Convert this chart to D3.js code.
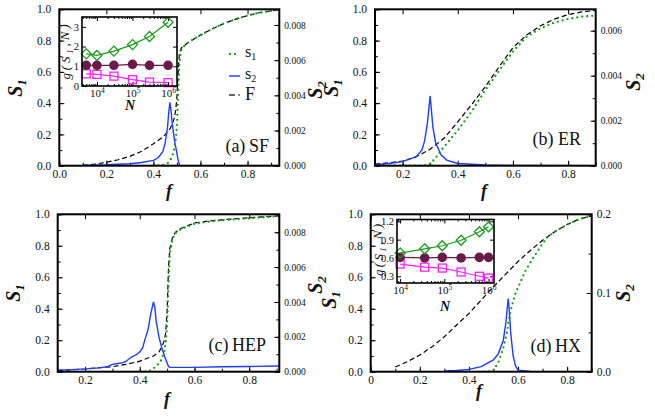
<!DOCTYPE html>
<html>
<head>
<meta charset="utf-8">
<script src="https://cdn.jsdelivr.net/npm/d3@7"></script>
</head>
<body style="margin:0;background:#fff">
<svg width="655" height="417" style="display:block"></svg>
<script>
// ---- panel (a) SF: [f, value] ----
var sfF = [[0.1,0.003],[0.15,0.01],[0.2,0.022],[0.25,0.038],[0.3,0.06],[0.35,0.092],[0.4,0.14],[0.43,0.172],[0.45,0.198],[0.47,0.235],[0.48,0.265],[0.49,0.31],[0.495,0.36],[0.5,0.44],[0.505,0.6],[0.51,0.71],[0.515,0.74],[0.52,0.755],[0.55,0.79],[0.6,0.835],[0.65,0.875],[0.7,0.91],[0.75,0.937],[0.8,0.96],[0.85,0.978],[0.9,0.99],[0.935,0.997]];
var sfS1 = [[0.4,0],[0.43,0.002],[0.45,0.006],[0.46,0.015],[0.47,0.033],[0.48,0.06],[0.49,0.115],[0.495,0.17],[0.5,0.26],[0.505,0.45],[0.51,0.64],[0.515,0.72],[0.52,0.75],[0.55,0.79],[0.6,0.835],[0.65,0.875],[0.7,0.91],[0.75,0.937],[0.8,0.96],[0.85,0.978],[0.9,0.99],[0.935,0.997]];
var sfS2 = [[0.1,0.00002],[0.2,0.00005],[0.3,0.00011],[0.35,0.00018],[0.4,0.0003],[0.42,0.00045],[0.44,0.0008],[0.45,0.0013],[0.46,0.0022],[0.465,0.003],[0.47,0.0036],[0.475,0.0031],[0.48,0.0024],[0.49,0.0014],[0.5,0.0007],[0.505,0.0003],[0.512,0],[0.935,0]];

// ---- panel (b) ER ----
var erF = [[0.1,0.01],[0.15,0.018],[0.2,0.03],[0.25,0.058],[0.3,0.105],[0.35,0.175],[0.4,0.28],[0.45,0.39],[0.5,0.505],[0.55,0.633],[0.6,0.755],[0.65,0.836],[0.7,0.895],[0.75,0.937],[0.8,0.966],[0.85,0.983],[0.9,0.993]];
var erS1 = [[0.1,0],[0.27,0],[0.29,0.005],[0.3,0.012],[0.32,0.05],[0.35,0.12],[0.4,0.225],[0.45,0.345],[0.5,0.484],[0.55,0.608],[0.6,0.73],[0.65,0.825],[0.7,0.878],[0.75,0.915],[0.8,0.938],[0.85,0.953],[0.9,0.96]];
var erS2 = [[0.1,0.00004],[0.15,0.0001],[0.2,0.00018],[0.25,0.0004],[0.27,0.0007],[0.28,0.0011],[0.29,0.0019],[0.295,0.0025],[0.3,0.0031],[0.305,0.0024],[0.31,0.0017],[0.32,0.001],[0.34,0.00047],[0.36,0.00025],[0.4,0.0001],[0.5,0.00003],[0.6,0.00001],[0.9,0]];

// ---- panel (c) HEP ----
var hepF = [[0.1,0.006],[0.2,0.017],[0.3,0.032],[0.35,0.046],[0.4,0.067],[0.45,0.1],[0.47,0.125],[0.48,0.155],[0.49,0.2],[0.495,0.25],[0.5,0.39],[0.505,0.66],[0.51,0.785],[0.52,0.855],[0.53,0.885],[0.55,0.91],[0.6,0.945],[0.65,0.957],[0.7,0.965],[0.8,0.978],[0.91,0.99]];
var hepS1 = [[0.42,0],[0.44,0.008],[0.45,0.02],[0.47,0.052],[0.48,0.078],[0.49,0.13],[0.495,0.19],[0.5,0.29],[0.505,0.56],[0.51,0.75],[0.52,0.845],[0.53,0.88],[0.55,0.905],[0.6,0.94],[0.65,0.953],[0.7,0.962],[0.8,0.975],[0.91,0.988]];
var hepS2 = [[0.1,0.0001],[0.15,0.00012],[0.2,0.00016],[0.25,0.00022],[0.28,0.00028],[0.3,0.00042],[0.32,0.00047],[0.34,0.00052],[0.35,0.0006],[0.37,0.00084],[0.39,0.001],[0.4,0.00115],[0.41,0.00135],[0.42,0.0019],[0.43,0.0024],[0.44,0.0033],[0.45,0.004],[0.455,0.0037],[0.46,0.0029],[0.47,0.002],[0.48,0.0014],[0.49,0.0009],[0.5,0.0005],[0.505,0.0003],[0.51,0.00025],[0.6,0.00025],[0.7,0.00028],[0.8,0.0003],[0.91,0.00033]];

// ---- panel (d) HX ----
var hxF = [[0.1,0.03],[0.15,0.064],[0.2,0.106],[0.25,0.159],[0.3,0.222],[0.35,0.297],[0.4,0.37],[0.45,0.455],[0.5,0.54],[0.55,0.62],[0.6,0.7],[0.65,0.77],[0.7,0.835],[0.75,0.89],[0.8,0.935],[0.85,0.97],[0.9,0.99]];
var hxS1 = [[0.46,0],[0.48,0.002],[0.5,0.01],[0.52,0.06],[0.54,0.15],[0.555,0.25],[0.565,0.35],[0.575,0.42],[0.59,0.5],[0.61,0.57],[0.63,0.64],[0.66,0.72],[0.69,0.79],[0.72,0.855],[0.75,0.89],[0.8,0.935],[0.85,0.97],[0.9,0.99]];
var hxS2 = [[0.3,0.0008],[0.35,0.0015],[0.4,0.003],[0.45,0.0065],[0.5,0.015],[0.52,0.023],[0.54,0.04],[0.55,0.061],[0.56,0.093],[0.565,0.075],[0.57,0.05],[0.58,0.02],[0.59,0.007],[0.6,0.002],[0.65,0.0004],[0.7,0]];

// ---- insets: g(S1,N) against N ----
var sfN = [5000, 1e4, 3e4, 1e5, 3e5, 1e6];
var sfDiamond = [1.63, 1.55, 1.77, 2.1, 2.51, 3.23];
var sfCircle = [1.05, 1.05, 1.05, 1.1, 1.05, 1.05];
var sfSquare = [0.62, 0.59, 0.5, 0.32, 0.2, 0.17];
var hxN = [1e4, 3.6e4, 9e4, 2.4e5, 6.2e5, 1e6];
var hxDiamond = [0.68, 0.75, 0.8, 0.89, 1.03, 1.11];
var hxCircle = [0.61, 0.6, 0.61, 0.6, 0.61, 0.61];
var hxSquare = [0.5, 0.45, 0.435, 0.37, 0.3, 0.27];

// ---- tick values ----
var s1Ticks = [0, 0.2, 0.4, 0.6, 0.8, 1.0];
var fTicksA = [0, 0.2, 0.4, 0.6, 0.8];
var fTicksB = [0.2, 0.4, 0.6, 0.8];
var s2TicksA = [0, 0.002, 0.004, 0.006, 0.008];
var s2TicksB = [0, 0.002, 0.004, 0.006];
var s2TicksD = [0, 0.1, 0.2];
var gTicksA = [0, 1, 2, 3];
var gTicksD = [0.3, 0.6, 0.9, 1.2];
var nTicks = [1e4, 1e5, 1e6];

var GREEN = "#1a9a1a", BLUE = "#1f3cff", MAROON = "#6a1a48", MAGENTA = "#ff20ff";

var svg = d3.select("svg");

function addAxis(g, gen, tx, ty, vals, size, pad, fmt, fs) {
	var a = g.append("g")
		.attr("transform", "translate(" + tx + "," + ty + ")")
		.call(gen.tickValues(vals).tickSize(size).tickPadding(pad).tickFormat(fmt));
	a.select(".domain").remove();
	a.attr("font-size", fs);
	a.selectAll("line").attr("stroke", "#000");
	return a;
}

function minorVals(dom, step) {
	var out = [];
	for (var v = Math.ceil(dom[0] / step - 1e-6) * step; v <= dom[1] + 1e-9; v += step) out.push(+v.toFixed(6));
	return out;
}

function drawPanel(p) {
	var x = d3.scaleLinear().domain(p.fdom).range([p.x0, p.x1]);
	var y = d3.scaleLinear().domain([0, 1]).range([p.y1, p.y0]);
	var y2 = d3.scaleLinear().domain(p.s2dom).range([p.y1, p.y0]);
	var g = svg.append("g");

	g.append("clipPath").attr("id", "clip-" + p.id)
		.append("rect").attr("x", p.x0).attr("y", p.y0)
		.attr("width", p.x1 - p.x0).attr("height", p.y1 - p.y0);

	// ticks point into the plot
	var none = function() { return ""; };
	addAxis(g, d3.axisBottom(x), 0, p.y1, p.fTicks, -5, 4, p.fFmt, "11.5px");
	addAxis(g, d3.axisBottom(x), 0, p.y1, minorVals(p.fdom, 0.1), -3, 0, none, "1px");
	addAxis(g, d3.axisTop(x), 0, p.y0, p.fTicks, -5, 0, none, "1px");
	addAxis(g, d3.axisLeft(y), p.x0, 0, s1Ticks, -5, 8, d3.format(".1f"), "11.5px");
	addAxis(g, d3.axisLeft(y), p.x0, 0, minorVals([0, 1], 0.1), -3, 0, none, "1px");
	addAxis(g, d3.axisRight(y2), p.x1, 0, p.s2Ticks, -5, 5, p.s2Fmt, p.s2fs);
	addAxis(g, d3.axisRight(y2), p.x1, 0, minorVals(p.s2dom, p.s2Minor), -3, 0, none, "1px");

	var cg = g.append("g").attr("clip-path", "url(#clip-" + p.id + ")");
	var lineL = d3.line().x(function(d) { return x(d[0]); }).y(function(d) { return y(d[1]); });
	var lineR = d3.line().x(function(d) { return x(d[0]); }).y(function(d) { return y2(d[1]); });

	cg.append("path").datum(p.F).attr("d", lineL)
		.attr("fill", "none").attr("stroke", "#000").attr("stroke-width", 1.2)
		.attr("stroke-dasharray", "5,3");
	cg.append("path").datum(p.S2).attr("d", lineR)
		.attr("fill", "none").attr("stroke", BLUE).attr("stroke-width", 1.4);
	cg.append("path").datum(p.S1).attr("d", lineL)
		.attr("fill", "none").attr("stroke", GREEN).attr("stroke-width", 2.3)
		.attr("stroke-linecap", "round").attr("stroke-dasharray", "0,5");

	g.append("rect").attr("x", p.x0).attr("y", p.y0)
		.attr("width", p.x1 - p.x0).attr("height", p.y1 - p.y0)
		.attr("fill", "none").attr("stroke", "#000").attr("stroke-width", 2);

	// axis titles
	g.append("text").attr("x", p.fLab[0]).attr("y", p.fLab[1])
		.attr("text-anchor", "middle").attr("font-size", "18px")
		.attr("font-style", "italic").attr("font-weight", "bold").text("f");
	[[p.s1Lab, "1"], [p.s2Lab, "2"]].forEach(function(l) {
		var t = g.append("text")
			.attr("transform", "translate(" + l[0][0] + "," + l[0][1] + ") rotate(-90)")
			.attr("text-anchor", "middle").attr("font-size", "20px")
			.attr("font-style", "italic").attr("font-weight", "bold");
		t.append("tspan").text("S");
		t.append("tspan").attr("dy", "0.3em").attr("font-size", "13px").text(l[1]);
	});

	g.append("text").attr("x", p.tag[0]).attr("y", p.tag[1])
		.attr("text-anchor", "end").attr("font-size", "18px").text(p.tagText);
	return g;
}

function supLabels(a) {
	a.selectAll(".tick text").each(function(d) {
		var t = d3.select(this);
		t.text(null);
		t.append("tspan").text("10");
		t.append("tspan").attr("dy", "-0.5em").attr("font-size", "7.5px").text(Math.round(Math.log10(d)));
	});
}

function drawInset(q) {
	var x = d3.scaleLog().domain(q.ndom).range([q.x0, q.x1]);
	var y = d3.scaleLinear().domain(q.gdom).range([q.y1, q.y0]);
	var g = svg.append("g");
	g.append("rect").attr("x", q.x0).attr("y", q.y0)
		.attr("width", q.x1 - q.x0).attr("height", q.y1 - q.y0).attr("fill", "#fff");

	var none = function() { return ""; };
	var minorN = [];
	[1e3, 1e4, 1e5, 1e6].forEach(function(dec) {
		for (var k = 2; k <= 9; k++) {
			var v = dec * k;
			if (v >= q.ndom[0] && v <= q.ndom[1]) minorN.push(v);
		}
	});
	var bx = addAxis(g, d3.axisBottom(x), 0, q.y1, nTicks, -4, 3, none, "11px");
	supLabels(bx);
	addAxis(g, d3.axisBottom(x), 0, q.y1, minorN, -2, 0, none, "1px");
	addAxis(g, d3.axisTop(x), 0, q.y0, nTicks, -4, 0, none, "1px");
	addAxis(g, d3.axisTop(x), 0, q.y0, minorN, -2, 0, none, "1px");
	addAxis(g, d3.axisLeft(y), q.x0, 0, q.gTicks, -4, 3, q.gFmt, "10.5px");
	addAxis(g, d3.axisRight(y), q.x1, 0, q.gTicks, -4, 0, none, "1px");

	var series = [
		{ v: q.sq, c: MAGENTA, shape: "sq" },
		{ v: q.ci, c: MAROON, shape: "ci" },
		{ v: q.di, c: GREEN, shape: "di" }
	];
	series.forEach(function(s) {
		var pts = q.N.map(function(n, i) { return [n, s.v[i]]; });
		g.append("path").datum(pts)
			.attr("d", d3.line().x(function(d) { return x(d[0]); }).y(function(d) { return y(d[1]); }))
			.attr("fill", "none").attr("stroke", s.c).attr("stroke-width", 1.2);
		var m = g.selectAll(null).data(pts).enter();
		if (s.shape === "ci") {
			m.append("circle").attr("cx", function(d) { return x(d[0]); }).attr("cy", function(d) { return y(d[1]); })
				.attr("r", 4.8).attr("fill", s.c);
		} else if (s.shape === "sq") {
			m.append("rect").attr("x", function(d) { return x(d[0]) - 4; }).attr("y", function(d) { return y(d[1]) - 4; })
				.attr("width", 8).attr("height", 8).attr("fill", "none").attr("stroke", s.c).attr("stroke-width", 1.3);
		} else {
			m.append("path").attr("transform", function(d) { return "translate(" + x(d[0]) + "," + y(d[1]) + ")"; })
				.attr("d", "M0,-5L5,0L0,5L-5,0Z").attr("fill", "none").attr("stroke", s.c).attr("stroke-width", 1.3);
		}
	});

	g.append("rect").attr("x", q.x0).attr("y", q.y0)
		.attr("width", q.x1 - q.x0).attr("height", q.y1 - q.y0)
		.attr("fill", "none").attr("stroke", "#000").attr("stroke-width", 1.6);

	var gl = g.append("text")
		.attr("transform", "translate(" + q.gLab[0] + "," + q.gLab[1] + ") rotate(-90)")
		.attr("text-anchor", "middle").attr("font-size", "13px").attr("font-style", "italic")
		.attr("textLength", q.gLen).attr("lengthAdjust", "spacing");
	gl.append("tspan").text("g(S");
	gl.append("tspan").attr("dy", "0.3em").attr("font-size", "9px").text("1");
	gl.append("tspan").attr("dy", "-0.3em").text(",N)");
	g.append("text").attr("x", q.nLab[0]).attr("y", q.nLab[1])
		.attr("text-anchor", "middle").attr("font-size", "14px")
		.attr("font-style", "italic").attr("font-weight", "bold").text("N");
}

var fmt1 = d3.format(".1f");
var fmtD = function(d) { return d === 0 ? "0" : fmt1(d); };

drawPanel({ id: "a", x0: 59.3, x1: 279.3, y0: 9.3, y1: 165.7, fdom: [0, 0.935], s2dom: [0, 0.00889],
	fTicks: fTicksA, fFmt: fmt1, s2Ticks: s2TicksA, s2Fmt: d3.format(".3f"), s2fs: "9.5px", s2Minor: 0.001,
	F: sfF, S1: sfS1, S2: sfS2, fLab: [169, 197], s1Lab: [22, 88], s2Lab: [322, 90],
	tag: [269, 152], tagText: "(a)\u2009SF" });
drawPanel({ id: "b", x0: 375, x1: 595.7, y0: 9.3, y1: 165.7, fdom: [0.1, 0.9], s2dom: [0, 0.00695],
	fTicks: fTicksB, fFmt: fmt1, s2Ticks: s2TicksB, s2Fmt: d3.format(".3f"), s2fs: "9.5px", s2Minor: 0.001,
	F: erF, S1: erS1, S2: erS2, fLab: [484, 197], s1Lab: [338, 88], s2Lab: [640, 82],
	tag: [581, 145], tagText: "(b) ER" });
drawPanel({ id: "c", x0: 57.7, x1: 279.3, y0: 214.3, y1: 371.7, fdom: [0.1, 0.91], s2dom: [0, 0.00903],
	fTicks: fTicksB, fFmt: fmt1, s2Ticks: s2TicksA, s2Fmt: d3.format(".3f"), s2fs: "9.5px", s2Minor: 0.001,
	F: hepF, S1: hepS1, S2: hepS2, fLab: [167, 405], s1Lab: [20, 293], s2Lab: [322, 285],
	tag: [266, 351], tagText: "(c)\u2009HEP" });
drawPanel({ id: "d", x0: 370.7, x1: 591.7, y0: 214.3, y1: 371.7, fdom: [0, 0.9], s2dom: [0, 0.2],
	fTicks: fTicksA, fFmt: fmtD, s2Ticks: s2TicksD, s2Fmt: fmt1, s2fs: "11.5px", s2Minor: 0.05,
	F: hxF, S1: hxS1, S2: hxS2, fLab: [479, 397], s1Lab: [336, 300], s2Lab: [630, 293],
	tag: [581, 352], tagText: "(d)\u2009HX" });

drawInset({ x0: 82, x1: 177, y0: 17, y1: 86, ndom: [3800, 1.78e6], gdom: [0, 3.5],
	gTicks: gTicksA, gFmt: d3.format("d"), N: sfN, di: sfDiamond, ci: sfCircle, sq: sfSquare,
	gLab: [70, 52], gLen: 55, nLab: [130, 110] });
drawInset({ x0: 397, x1: 494, y0: 219.5, y1: 283, ndom: [8500, 1.33e6], gdom: [0.19, 1.23],
	gTicks: gTicksD, gFmt: fmt1, N: hxN, di: hxDiamond, ci: hxCircle, sq: hxSquare,
	gLab: [383, 250], gLen: 52, nLab: [445, 311] });

// legend in panel (a)
var leg = svg.append("g");
leg.append("line").attr("x1", 230).attr("x2", 240).attr("y1", 54).attr("y2", 54)
	.attr("stroke", GREEN).attr("stroke-width", 2.3).attr("stroke-linecap", "round").attr("stroke-dasharray", "0,5");
leg.append("line").attr("x1", 229).attr("x2", 240).attr("y1", 76).attr("y2", 76)
	.attr("stroke", BLUE).attr("stroke-width", 1.4);
leg.append("line").attr("x1", 229).attr("x2", 235).attr("y1", 95).attr("y2", 95)
	.attr("stroke", "#000").attr("stroke-width", 1.2);
leg.append("circle").attr("cx", 239).attr("cy", 95).attr("r", 0.8).attr("fill", "#000");
[["s", "1", 57], ["s", "2", 79]].forEach(function(l) {
	var t = leg.append("text").attr("x", 245).attr("y", l[2]).attr("font-size", "16px");
	t.append("tspan").text(l[0]);
	t.append("tspan").attr("dy", "0.3em").attr("font-size", "10px").text(l[1]);
});
leg.append("text").attr("x", 245).attr("y", 100).attr("font-size", "18px").text("F");

// serif face for every label, set inline
svg.selectAll("text").style("font-family", "'Liberation Serif', serif").style("fill", "#111");
</script>
</body>
</html>
